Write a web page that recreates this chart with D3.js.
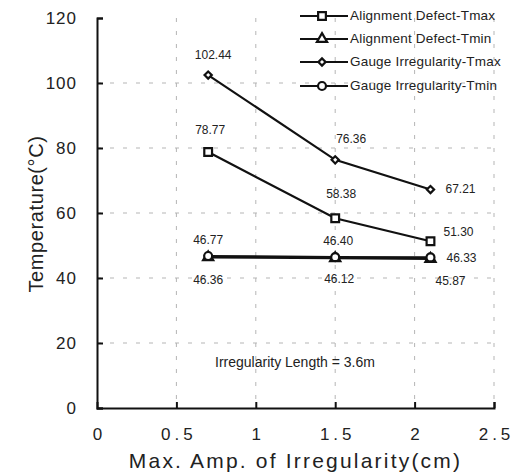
<!DOCTYPE html>
<html>
<head>
<meta charset="utf-8">
<script src="https://cdn.jsdelivr.net/npm/d3@7"></script>
<style>
  body { margin: 0; background: #fff; }
  text { font-family: "Liberation Sans", Arial, sans-serif; fill: #222; }
</style>
</head>
<body>
<div id="the_chart"></div>
<script>
var xvals = [0.7, 1.5, 2.1];
var adTmax = [78.77, 58.38, 51.30];
var adTmin = [46.36, 46.12, 45.87];
var giTmax = [102.44, 76.36, 67.21];
var giTmin = [46.77, 46.40, 46.33];
var seriesNames = ["Alignment Defect-Tmax", "Alignment Defect-Tmin",
                   "Gauge Irregularity-Tmax", "Gauge Irregularity-Tmin"];
var xticks = [0, 0.5, 1, 1.5, 2, 2.5];
var yticks = [0, 20, 40, 60, 80, 100, 120];

var w = 527, h = 476;
var padL = 97, padR = 494, padT = 18, padB = 408;

var svg = d3.select("#the_chart").append("svg")
    .attr("width", w).attr("height", h);

var xscale = d3.scaleLinear().domain([0, 2.5]).range([padL, padR]);
var yscale = d3.scaleLinear().domain([0, 120]).range([padB, padT]);

// grid
svg.append("g").selectAll("line").data(yticks.filter(function(d){ return d > 0 && d < 120; }))
   .enter().append("line")
   .attr("x1", padL).attr("x2", padR)
   .attr("y1", function(d){ return yscale(d); }).attr("y2", function(d){ return yscale(d); })
   .attr("stroke", "#b5b5b5").attr("stroke-width", 1).attr("stroke-dasharray", "4,9");
svg.append("g").selectAll("line").data(xticks.filter(function(d){ return d > 0; }))
   .enter().append("line")
   .attr("y1", padT).attr("y2", padB)
   .attr("x1", function(d){ return xscale(d); }).attr("x2", function(d){ return xscale(d); })
   .attr("stroke", "#b5b5b5").attr("stroke-width", 1).attr("stroke-dasharray", "4,9");

// axes
var yaxis = d3.axisLeft(yscale).tickValues(yticks).tickSize(-6).tickPadding(20);
var gy = svg.append("g").attr("transform", "translate(" + padL + ",0)").call(yaxis);
var xaxis = d3.axisBottom(xscale).tickValues(xticks).tickSize(-6).tickPadding(20)
    .tickFormat(function(d){ return String(d); });
var gx = svg.append("g").attr("transform", "translate(0," + padB + ")").call(xaxis);
[gx, gy].forEach(function(g){
  g.select(".domain").attr("stroke", "#111").attr("stroke-width", 2);
  g.selectAll(".tick line").attr("stroke", "#111").attr("stroke-width", 2);
  g.selectAll(".tick text").attr("font-size", 17).attr("fill", "#222")
   .attr("font-family", "Liberation Sans, Arial, sans-serif");
});
gy.selectAll(".tick text").attr("letter-spacing", 1);
gx.selectAll(".tick text").attr("letter-spacing", 4).attr("dx", 2);
gx.selectAll(".tick line").filter(function(d){ return d === 0; }).remove();

// axis titles
svg.append("text").attr("x", (padL + padR) / 2).attr("y", 468)
   .attr("text-anchor", "middle").attr("font-size", 21).attr("letter-spacing", 2.2)
   .text("Max. Amp. of Irregularity(cm)");
svg.append("text").attr("transform", "translate(43," + 214 + ") rotate(-90)")
   .attr("text-anchor", "middle").attr("font-size", 20).attr("letter-spacing", 0.6)
   .text("Temperature(°C)");

var line = d3.line().x(function(d, i){ return xscale(xvals[i]); }).y(function(d){ return yscale(d); });
var allSeries = [adTmax, adTmin, giTmax, giTmin];
var shapes = [d3.symbolSquare, d3.symbolTriangle, d3.symbolSquare, d3.symbolCircle];
var sizes = [60, 45, 26, 50];
var rot = [0, 0, 45, 0];

function marker(g, k, x, y) {
  g.append("path").attr("d", d3.symbol().type(shapes[k]).size(sizes[k])())
   .attr("transform", "translate(" + x + "," + y + ") rotate(" + rot[k] + ")")
   .attr("fill", "#fff").attr("stroke", "#111").attr("stroke-width", 2.2);
}

allSeries.forEach(function(s, k){
  svg.append("path").datum(s).attr("d", line)
     .attr("fill", "none").attr("stroke", "#111").attr("stroke-width", 2.2);
});
allSeries.forEach(function(s, k){
  var g = svg.append("g");
  s.forEach(function(v, i){ marker(g, k, xscale(xvals[i]), yscale(v)); });
});

// value labels: [series, index, dx, dy, anchor]
var labelPos = [
  [2, 0, 5, -19, "middle"], [2, 1, 16, -20, "middle"], [2, 2, 15, 0, "start"],
  [0, 0, 2, -21, "middle"], [0, 1, 6, -23, "middle"], [0, 2, 13, -8, "start"],
  [3, 0, 0, -15, "middle"], [3, 1, 3, -15, "middle"], [3, 2, 16, 1, "start"],
  [1, 0, 0, 23, "middle"], [1, 1, 4, 22, "middle"], [1, 2, 5, 23, "start"]
];
labelPos.forEach(function(p){
  var v = allSeries[p[0]][p[1]];
  svg.append("text").attr("x", xscale(xvals[p[1]]) + p[2]).attr("y", yscale(v) + p[3])
     .attr("text-anchor", p[4]).attr("font-size", 12).attr("dominant-baseline", "middle")
     .text(v.toFixed(2));
});

svg.append("text").attr("x", 215).attr("y", 363).attr("font-size", 14)
   .attr("dominant-baseline", "middle")
   .text("Irregularity Length = 3.6m");

// legend
var ly = [16, 39, 62, 86];
seriesNames.forEach(function(name, k){
  var g = svg.append("g");
  g.append("line").attr("x1", 300).attr("x2", 348).attr("y1", ly[k]).attr("y2", ly[k])
   .attr("stroke", "#111").attr("stroke-width", 2.2);
  marker(g, k, 322, ly[k]);
  g.append("text").attr("x", 350).attr("y", ly[k]).attr("dominant-baseline", "middle")
   .attr("font-size", 13.5).attr("letter-spacing", 0.2).text(name);
});
</script>
</body>
</html>
